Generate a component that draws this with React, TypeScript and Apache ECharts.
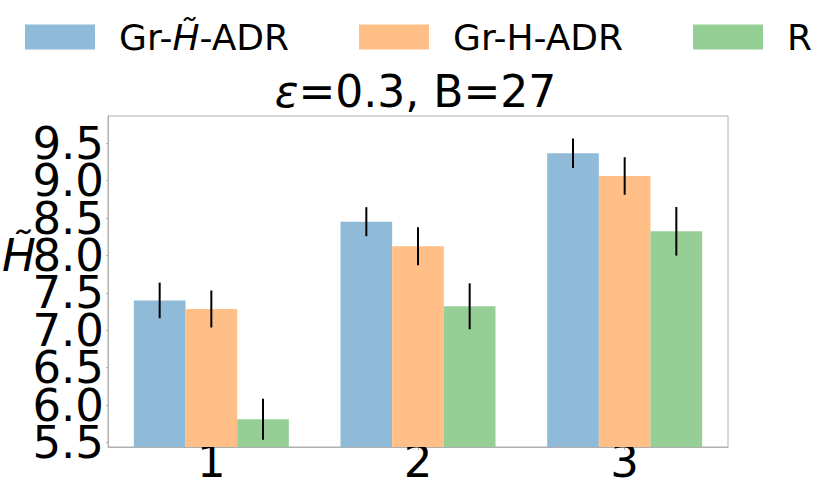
import React, { useEffect, useRef } from "react";
import * as echarts from "echarts";

const categories = ["1", "2", "3"];
const seriesNames = ["Gr-H\u0303-ADR", "Gr-H-ADR", "R"];
const grHtildeADR = [7.40, 8.452, 9.366];
const grHADR = [7.285, 8.123, 9.063];
const rValues = [5.81, 7.321, 8.324];
const grHtildeADRErr = [0.238, 0.194, 0.197];
const grHADRErr = [0.247, 0.254, 0.251];
const rErr = [0.274, 0.307, 0.325];
const yTicksA = [5.5, 6.5, 7.5, 8.5, 9.5];
const yTicksB = [6.0, 7.0, 8.0, 9.0];
const colors = ["#8fbbd9", "#ffbf86", "#95cf95"];

const FONT = "DejaVu Sans";
const Y_MIN = 5.44;
const Y_MAX = 9.865;

export default function App() {
  const ref = useRef<HTMLDivElement>(null);
  useEffect(() => {
    if (!ref.current) return;
    const chart = echarts.init(ref.current, undefined, { renderer: "svg" });
    const values = [grHtildeADR, grHADR, rValues];
    const errs = [grHtildeADRErr, grHADRErr, rErr];
    const barSeries = values.map((v, i) => ({
      type: "bar",
      name: seriesNames[i],
      data: v,
      yAxisIndex: 0,
      barWidth: "25%",
      barGap: "0%",
      itemStyle: { color: colors[i] },
      z: 2,
    }));
    const errSeries = values.map((v, s) => ({
      type: "custom",
      name: "err" + s,
      coordinateSystem: "cartesian2d",
      yAxisIndex: 0,
      encode: { x: 0, y: [1, 2] },
      data: v.map((val, c) => [c, val - errs[s][c], val + errs[s][c]]),
      z: 5,
      renderItem: (params: any, api: any) => {
        const lo = api.coord([api.value(0), api.value(1)]);
        const hi = api.coord([api.value(0), api.value(2)]);
        const bw = api.size([1, 0])[0];
        const off = (s - 1) * bw * 0.25;
        return {
          type: "line",
          shape: { x1: lo[0] + off, y1: lo[1], x2: hi[0] + off, y2: hi[1] },
          style: { stroke: "#000", lineWidth: 2 },
        };
      },
    }));
    const makeY = (ticks: number[]) => ({
      type: "value",
      position: "left",
      offset: 0,
      min: Y_MIN,
      max: Y_MAX,
      axisLine: { show: true, lineStyle: { color: "#b0b0b0", width: 1 } },
      axisTick: { show: true, length: 2, lineStyle: { color: "#b0b0b0" }, customValues: ticks },
      axisLabel: {
        fontFamily: FONT,
        fontSize: 45,
        color: "#000",
        margin: 4,
        customValues: ticks,
        showMinLabel: true,
        showMaxLabel: true,
        hideOverlap: false,
        formatter: (v: number) => v.toFixed(1),
      },
      splitLine: { show: false },
    });
    chart.setOption({
      animation: false,
      backgroundColor: "#fff",
      textStyle: { fontFamily: FONT },
      title: {
        text: "{e|\u03b5}=0.3, B=27",
        left: "center",
        top: 64,
        textStyle: {
          fontFamily: FONT,
          fontSize: 44,
          fontWeight: "normal",
          color: "#000",
          rich: {
            e: { fontFamily: FONT, fontSize: 44, fontStyle: "italic", color: "#000" },
          },
        },
      },
      legend: {
        data: seriesNames,
        top: 14,
        left: 20,
        itemWidth: 70,
        itemHeight: 25,
        itemGap: 70,
        icon: "rect",
        formatter: (name: string) =>
          name === seriesNames[0] ? "Gr-{i|H\u0303}-ADR" : name,
        textStyle: {
          fontFamily: FONT,
          fontSize: 36,
          color: "#000",
          padding: [0, 0, 0, 19],
          rich: {
            i: { fontFamily: FONT, fontSize: 36, fontStyle: "italic", color: "#000" },
          },
        },
      },
      grid: {
        left: 108,
        right: 103,
        top: 116,
        bottom: 47,
        show: true,
        borderColor: "#b0b0b0",
        borderWidth: 1,
        containLabel: false,
        outerBoundsMode: "none",
      },
      xAxis: {
        type: "category",
        data: categories,
        boundaryGap: true,
        axisLine: { show: true, lineStyle: { color: "#b0b0b0", width: 1 } },
        axisTick: { show: true, alignWithLabel: true, length: 3, lineStyle: { color: "#b0b0b0" } },
        axisLabel: { fontFamily: FONT, fontSize: 45, color: "#000", margin: -8 },
        splitLine: { show: false },
      },
      yAxis: [makeY(yTicksA), makeY(yTicksB)],
      graphic: [
        {
          type: "text",
          left: 2,
          top: 233,
          style: {
            text: "H\u0303",
            font: "italic 45px 'DejaVu Sans'",
            fill: "#000",
          },
        },
      ],
      series: [...barSeries, ...errSeries],
    });
    return () => chart.dispose();
  }, []);
  return (
    <div
      ref={ref}
      style={{ position: "fixed", left: 0, top: 0, width: 831, height: 494 }}
    />
  );
}
